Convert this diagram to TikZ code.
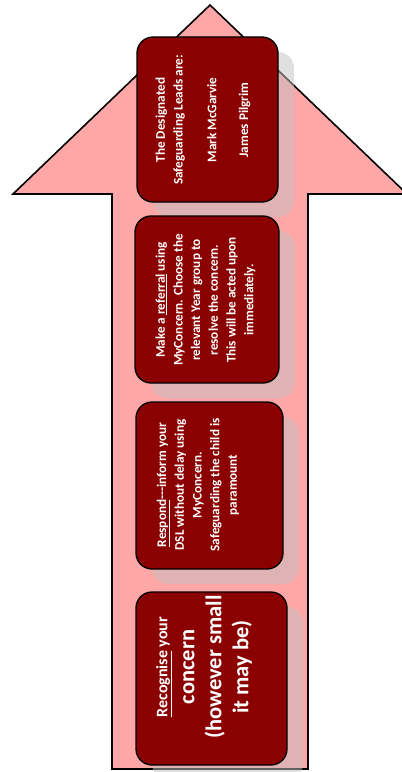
\documentclass[tikz,border=0pt]{standalone}
\usepackage{fontspec}
\newfontfamily\calfont{Carlito}
\definecolor{arrowpink}{RGB}{255,166,166}
\definecolor{boxred}{RGB}{139,0,0}
\definecolor{ashadow}{RGB}{204,204,204}
\definecolor{bshadow}{RGB}{193,193,193}
\tikzset{
  stepbox/.style={draw=black, line width=1.3bp, fill=boxred, rounded corners=16bp,
    inner sep=0pt, outer sep=0pt},
  boxshadow/.style={fill=bshadow, fill opacity=0.5, rounded corners=16bp,
    inner sep=0pt, outer sep=0pt},
  boxtext/.style={rotate=90, text=white, align=center, inner sep=0pt,
    font=\calfont\bfseries\fontsize{13.2bp}{17.7bp}\selectfont},
  bigtext/.style={boxtext, font=\calfont\bfseries\fontsize{22.5bp}{27bp}\selectfont},
  arrowbody/.style={fill=arrowpink, draw=black, line width=1.6bp, line join=miter},
  arrowshade/.style={fill=ashadow}
}
\begin{document}
\begin{tikzpicture}[x=1bp,y=-1bp]
\useasboundingbox (0,0) rectangle (401,772);
% arrow outline points
\coordinate (tip) at (210,5);
\coordinate (hr) at (407,194);
\coordinate (sr) at (308,194);
\coordinate (br) at (308,769);
\coordinate (bl) at (112,769);
\coordinate (sl) at (112,194);
\coordinate (hl) at (13,194);
% arrow shadow
\fill[arrowshade, shift={(5,4)}] (tip) -- (hr) -- (sr) -- (br) -- (bl) -- (sl) -- (hl) -- cycle;
% arrow
\draw[arrowbody] (tip) -- (hr) -- (sr) -- (br) -- (bl) -- (sl) -- (hl) -- cycle;
% box shadows
\node[boxshadow, minimum width=141bp, minimum height=165bp] (s1) at (223.5,134.5) {};
\node[boxshadow, minimum width=144bp, minimum height=167bp] (s2) at (223,314.5) {};
\node[boxshadow, minimum width=147bp, minimum height=167bp] (s3) at (225.5,500.5) {};
\node[boxshadow, minimum width=151bp, minimum height=173bp] (s4) at (227.5,693.5) {};
% boxes
\node[stepbox, minimum width=141bp, minimum height=165bp] (b1) at (207.5,119.5) {};
\node[stepbox, minimum width=144bp, minimum height=167bp] (b2) at (207,299.5) {};
\node[stepbox, minimum width=147bp, minimum height=167bp] (b3) at (209.5,485.5) {};
\node[stepbox, minimum width=151bp, minimum height=173bp] (b4) at (211.5,678.5) {};
% texts
\node[boxtext] (t1) at (203,120) {The Designated\\Safeguarding Leads are:\\[16bp]Mark McGarvie\\[14bp]James Pilgrim};
\node[boxtext] (t2) at (205.5,300) {Make a \underline{referral} using\\MyConcern. Choose the\\relevant Year group to\\resolve the concern.\\This will be acted upon\\immediately.};
\node[boxtext] (t3) at (198,485) {\underline{Respond}---inform your\\DSL without delay using\\MyConcern.\\Safeguarding the child is\\paramount};
\node[bigtext] (t4) at (204,667) {{\fontsize{16bp}{27bp}\selectfont\underline{Recognise} your}\\concern\\(however small\\it may be)};
\end{tikzpicture}
\end{document}
